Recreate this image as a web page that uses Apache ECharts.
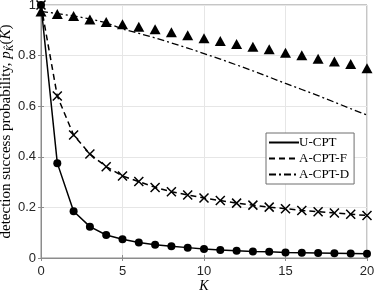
<!DOCTYPE html>
<html>
<head>
<meta charset="utf-8">
<script src="https://cdn.jsdelivr.net/npm/echarts@6/dist/echarts.min.js"></script>
<style>html,body{margin:0;padding:0;background:#fff;}#c{width:374px;height:292px;}</style>
</head>
<body>
<div id="c"></div>
<script>
const K = [0,1,2,3,4,5,6,7,8,9,10,11,12,13,14,15,16,17,18,19,20];
const uCPT = [1.0,0.375,0.185,0.124,0.091,0.074,0.061,0.052,0.046,0.041,0.036,0.032,0.029,0.026,0.025,0.022,0.021,0.020,0.019,0.018,0.017];
const aCPTF = [1.0,0.64,0.486,0.411,0.361,0.324,0.302,0.279,0.262,0.249,0.237,0.227,0.217,0.209,0.201,0.195,0.188,0.183,0.178,0.173,0.168];
const aCPTD = [0.975,0.966,0.957,0.945,0.930,0.905,0.888,0.870,0.850,0.830,0.808,0.786,0.763,0.740,0.715,0.690,0.666,0.642,0.616,0.590,0.565];
const aCPTDsim = [0.974,0.964,0.957,0.943,0.933,0.924,0.914,0.904,0.892,0.880,0.869,0.858,0.846,0.835,0.825,0.811,0.801,0.788,0.777,0.767,0.750];
const xTicks = [0,5,10,15,20];
const yTicks = [0,0.2,0.4,0.6,0.8,1];

const pair = arr => K.map((k,i)=>[k,arr[i]]);
const chart = echarts.init(document.getElementById('c'), null, {renderer:'canvas'});
const tickColor = '#262626';
const axisCol = '#8c8c8c';
const serif = '"Liberation Serif","DejaVu Serif",serif';
const sans = '"Liberation Sans",Arial,sans-serif';
const yFmt = v => (v===0?'0':(v===1?'1':v.toFixed(1)));
const hidden = {color:'rgba(0,0,0,0)',borderColor:'rgba(0,0,0,0)',borderWidth:0};
chart.setOption({
  animation:false,
  backgroundColor:'#fff',
  grid:{left:41,right:7,top:5,bottom:34,show:true,borderColor:axisCol,borderWidth:1,containLabel:false,outerBoundsMode:'none'},
  legend:{
    orient:'vertical',left:266,top:133,
    data:['U-CPT','A-CPT-F','A-CPT-D'],
    itemWidth:30,itemHeight:10,itemGap:3,
    padding:[3,5,3,2],
    backgroundColor:'#fff',borderColor:'#6e6e6e',borderWidth:1,borderRadius:0,
    textStyle:{fontFamily:serif,fontSize:13,color:'#000',padding:[0,0,0,-5]}
  },
  xAxis:[{
    type:'value',min:0,max:20,interval:5,
    name:'K',nameLocation:'middle',nameGap:21,nameMoveOverlap:false,
    nameTextStyle:{fontFamily:serif,fontStyle:'italic',fontSize:14,color:'#000'},
    axisLine:{show:true,lineStyle:{color:axisCol}},
    axisTick:{show:true,inside:true,length:3,lineStyle:{color:axisCol}},
    axisLabel:{color:tickColor,fontFamily:sans,fontSize:13,margin:7,formatter:v=>String(v)},
    splitLine:{show:true,lineStyle:{color:'#e6e6e6'}}
  },{
    type:'value',min:0,max:20,interval:5,position:'top',
    axisLine:{show:false},axisTick:{show:true,inside:true,length:3,lineStyle:{color:axisCol}},
    axisLabel:{show:false},splitLine:{show:false}
  }],
  yAxis:[{
    type:'value',min:0,max:1,interval:0.2,
    name:'{t|detection success probability, }{i|p}{s|K\u0302}{t|(}{i|K}{t|)}',
    nameLocation:'middle',nameGap:26,nameMoveOverlap:false,
    nameTextStyle:{fontFamily:serif,fontSize:15,color:'#000',
      rich:{t:{fontFamily:serif,fontSize:15,color:'#000'},
            i:{fontFamily:serif,fontSize:15,fontStyle:'italic',color:'#000'},
            s:{fontFamily:serif,fontSize:10,fontStyle:'italic',color:'#000',verticalAlign:'bottom',padding:[7,0,0,0]}}},
    axisLine:{show:true,lineStyle:{color:axisCol}},
    axisTick:{show:true,inside:true,length:3,lineStyle:{color:axisCol}},
    axisLabel:{color:tickColor,fontFamily:sans,fontSize:13,margin:5,formatter:yFmt},
    splitLine:{show:true,lineStyle:{color:'#e6e6e6'}}
  },{
    type:'value',min:0,max:1,interval:0.2,position:'right',
    axisLine:{show:false},axisTick:{show:true,inside:true,length:3,lineStyle:{color:axisCol}},
    axisLabel:{show:false},splitLine:{show:false}
  }],
  series:[
    {name:'U-CPT',type:'line',data:pair(uCPT),symbol:'none',lineStyle:{color:'#000',width:1.5,type:'solid'},itemStyle:hidden,z:3},
    {name:'A-CPT-F',type:'line',data:pair(aCPTF),symbol:'none',lineStyle:{color:'#000',width:1.5,type:[6,4]},itemStyle:hidden,z:3},
    {name:'A-CPT-D',type:'line',data:pair(aCPTD),symbol:'none',lineStyle:{color:'#000',width:1.3,type:[7,3,2,3]},itemStyle:hidden,z:3},
    {name:'U-CPT markers',type:'scatter',data:pair(uCPT),symbol:'circle',symbolSize:8,itemStyle:{color:'#000',opacity:1},z:4,silent:true},
    {name:'A-CPT-F markers',type:'scatter',data:pair(aCPTF),symbol:'path://M0,0L10,10M10,0L0,10',symbolSize:9,
      itemStyle:{color:'none',borderColor:'#000',borderWidth:1.5,opacity:1},z:4,silent:true},
    {name:'A-CPT-D sim',type:'scatter',data:pair(aCPTDsim),symbol:'triangle',symbolSize:[11,10],itemStyle:{color:'#000',opacity:1},z:4,silent:true}
  ]
});
</script>
</body>
</html>
